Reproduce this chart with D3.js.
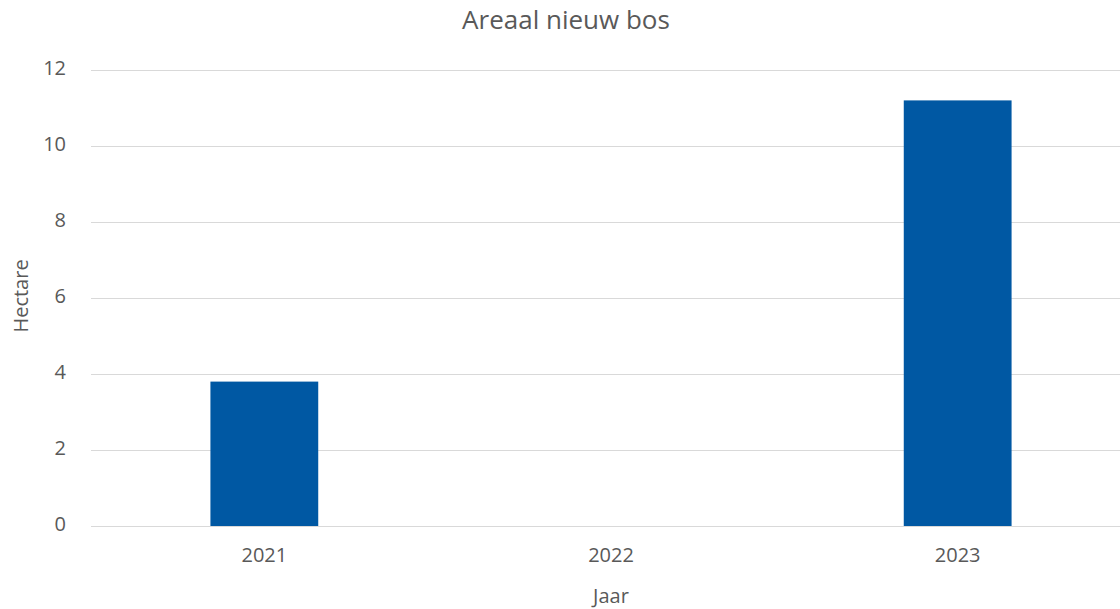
<!DOCTYPE html>
<html>
<head>
<meta charset="utf-8">
<script src="https://cdn.jsdelivr.net/npm/d3@7"></script>
<style>
  body { margin: 0; background: #fff; }
  svg text { font-family: "Open Sans", "Noto Sans", sans-serif; fill: #595959; }
</style>
</head>
<body>
<script>
// chart data
var years = ["2021", "2022", "2023"];
var hectare = [3.8, 0, 11.2];
var yTicks = [0, 2, 4, 6, 8, 10, 12];

var w = 1120, h = 609;
var plotLeft = 91, plotRight = 1131, plotTop = 70, plotBottom = 526;

var svg = d3.select("body").append("svg")
  .attr("width", w)
  .attr("height", h);

var x = d3.scaleBand()
  .domain(years)
  .range([plotLeft, plotRight])
  .paddingInner(0.689)
  .paddingOuter(0.3445);

var y = d3.scaleLinear()
  .domain([0, 12])
  .range([plotBottom, plotTop]);

// gridlines
svg.append("g")
  .selectAll("line")
  .data(yTicks)
  .enter()
  .append("line")
  .attr("x1", plotLeft)
  .attr("x2", w)
  .attr("y1", function(d) { return Math.round(y(d)) + 0.5; })
  .attr("y2", function(d) { return Math.round(y(d)) + 0.5; })
  .attr("stroke", "#d9d9d9")
  .attr("stroke-width", 1);

// bars
svg.append("g")
  .selectAll("rect")
  .data(hectare)
  .enter()
  .append("rect")
  .attr("x", function(d, i) { return x(years[i]); })
  .attr("width", x.bandwidth())
  .attr("y", function(d) { return y(d); })
  .attr("height", function(d) { return plotBottom - y(d); })
  .attr("fill", "#0058a3");

// y axis labels
var yAxis = d3.axisLeft(y).tickValues(yTicks).tickSize(0).tickPadding(0);
var gy = svg.append("g")
  .attr("transform", "translate(66,-2)")
  .call(yAxis);
gy.select(".domain").remove();
gy.selectAll("text").style("font-size", "20px").style("fill", "#595959")
  .style("font-family", "'Open Sans', sans-serif");

// x axis labels
var xAxis = d3.axisBottom(x).tickSize(0).tickPadding(0);
var gx = svg.append("g")
  .attr("transform", "translate(0," + (plotBottom + 22) + ")")
  .call(xAxis);
gx.select(".domain").remove();
gx.selectAll("text").style("font-size", "20px").style("fill", "#595959")
  .style("font-family", "'Open Sans', sans-serif");

// title
svg.append("text")
  .attr("x", 566)
  .attr("y", 29)
  .attr("text-anchor", "middle")
  .style("font-size", "26px")
  .text("Areaal nieuw bos");

// axis titles
svg.append("text")
  .attr("x", 611)
  .attr("y", 603)
  .attr("text-anchor", "middle")
  .style("font-size", "20px")
  .text("Jaar");

svg.append("text")
  .attr("transform", "translate(28,296) rotate(-90)")
  .attr("text-anchor", "middle")
  .style("font-size", "20px")
  .text("Hectare");
</script>
</body>
</html>
